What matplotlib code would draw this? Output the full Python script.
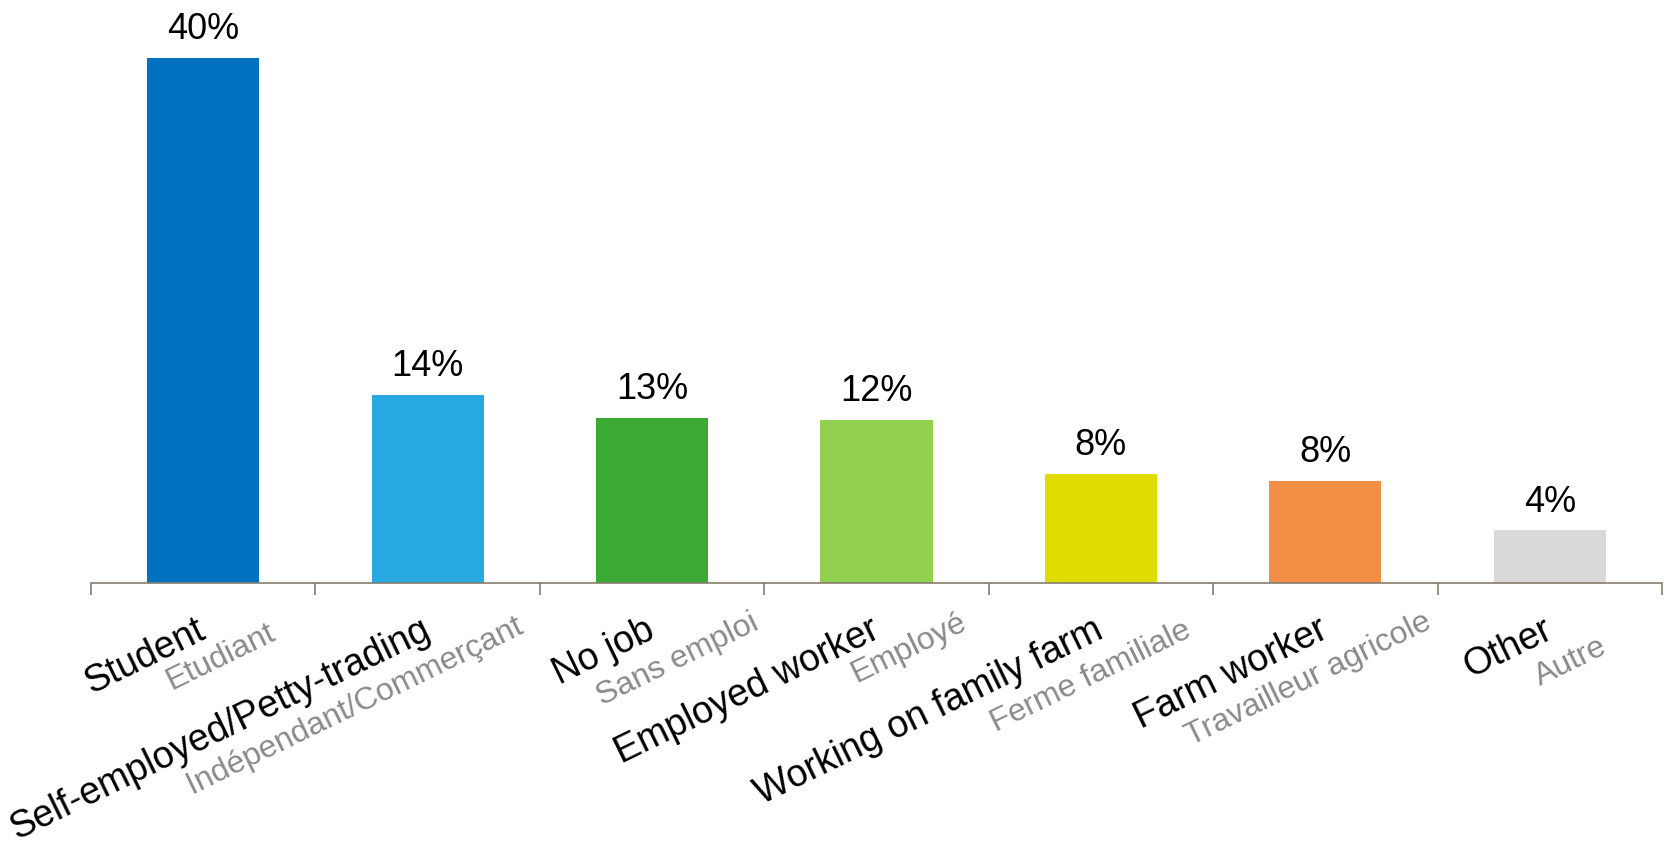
import numpy as np
import matplotlib.pyplot as plt

plt.rcParams['font.family'] = ['Liberation Sans', 'DejaVu Sans']

# Occupation shares (%)
labels_en = ['Student', 'Self-employed/Petty-trading', 'No job', 'Employed worker',
             'Working on family farm', 'Farm worker', 'Other']
labels_fr = ['Etudiant', 'Indépendant/Commerçant', 'Sans emploi', 'Employé',
             'Ferme familiale', 'Travailleur agricole', 'Autre']
shares = [40.0, 14.3, 12.6, 12.4, 8.3, 7.8, 4.0]
colors = ['#0070C0', '#29A9E1', '#3BAA35', '#92D050', '#E0DC00', '#F28F45', '#D9D9D9']

# French label placement relative to the English one (px along / across the slant)
fr_shift = [62, 86, 97, 82, 79, 97, 42]
fr_gap = [36, 40, 42, 35, 42, 42, 42]

axis_col = '#857D6E'
angle = 26

fig = plt.figure(figsize=(16.67, 8.41), dpi=100)
ax = fig.add_axes([91 / 1667, 258 / 841, 1571 / 1667, 583 / 841])

x = np.arange(len(shares))
bars = ax.bar(x, shares, width=0.5, color=colors, zorder=2)
ax.set_xlim(-0.5, len(shares) - 0.5)
ax.set_ylim(0, 44.4)

for b, v in zip(bars, shares):
    ax.annotate(f'{v:.0f}%', xy=(b.get_x() + b.get_width() / 2, v),
                xytext=(0, 13.5), textcoords='offset points',
                ha='center', va='baseline', fontsize=26, color='black')

# axis line with ticks between categories
for s in ['top', 'right', 'left']:
    ax.spines[s].set_visible(False)
ax.spines['bottom'].set_color(axis_col)
ax.spines['bottom'].set_linewidth(1.2)
ax.set_yticks([])
ax.set_xticks(np.arange(-0.5, len(shares), 1.0))
ax.set_xticklabels([])
ax.tick_params(axis='x', direction='out', length=8.5, width=1.2, color=axis_col)

# two-language category labels, slanted
a = np.radians(angle)
en_dx, en_dy = -5.5, -21.0
for i, (en, fr) in enumerate(zip(labels_en, labels_fr)):
    ax.annotate(en, xy=(i, 0), xycoords=('data', 'axes fraction'),
                xytext=(en_dx, en_dy), textcoords='offset points',
                rotation=angle, rotation_mode='anchor', ha='right', va='top',
                fontsize=27, color='black')
    u, g = fr_shift[i], fr_gap[i]
    dx = en_dx + (u * np.cos(a) + g * np.sin(a)) * 0.72
    dy = en_dy + (u * np.sin(a) - g * np.cos(a)) * 0.72
    ax.annotate(fr, xy=(i, 0), xycoords=('data', 'axes fraction'),
                xytext=(dx, dy), textcoords='offset points',
                rotation=angle, rotation_mode='anchor', ha='right', va='top',
                fontsize=23, color='#8A8A8A')

fig.savefig('out.png', dpi=100)
